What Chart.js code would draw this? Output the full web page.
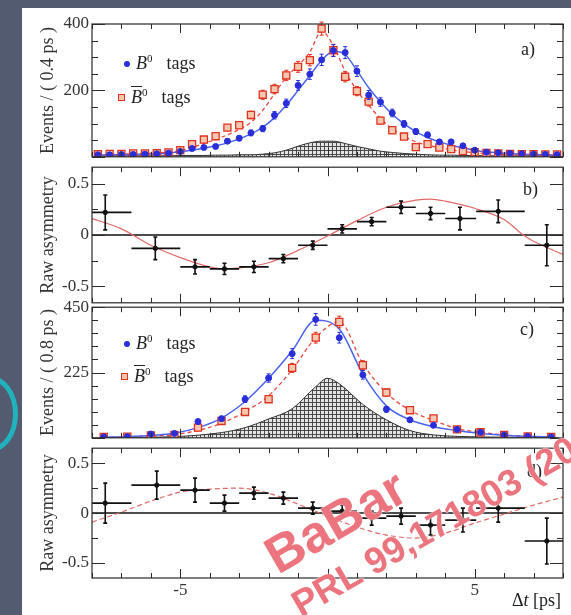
<!DOCTYPE html>
<html>
<head>
<meta charset="utf-8">
<title>BaBar - asimetria en Delta t</title>
<script src="https://cdn.jsdelivr.net/npm/chart.js@4.4.1/dist/chart.umd.min.js"></script>
<style>
  html, body { margin: 0; padding: 0; }
  body { width: 571px; height: 615px; overflow: hidden; position: relative; background: #525b70; font-family: 'Liberation Serif', serif; color: #222; }
  #hoja { position: absolute; left: 22px; top: 8px; width: 549px; height: 607px; background: #fff; }
  #arco { position: absolute; left: -36px; top: 376px; width: 44px; height: 66px; border: 5px solid #22b2bd; border-radius: 50%; }
  .panel { position: absolute; left: 0; width: 571px; }
  .txt { position: absolute; font-size: 18px; line-height: 1; white-space: nowrap; color: #222; }
  .txt sup { font-size: 11px; vertical-align: 7px; line-height: 0; }
  .mk { display: inline-block; vertical-align: 2px; margin-right: 6px; }
  .dot { width: 6px; height: 6px; border-radius: 50%; background: #2a2ed8; }
  .sq { width: 5px; height: 5px; border: 1.3px solid #e0301e; background: #f6c7b0; }
  .tg { margin-left: 14px; }
  .wm { position: absolute; font-family: 'Liberation Sans', Arial, sans-serif; font-weight: bold; color: rgba(230,86,98,0.82); line-height: 1; white-space: nowrap; transform: rotate(-30deg); transform-origin: 0 100%; text-shadow: 0 0 2px #fff, 0 0 1px #fff; }
</style>
</head>
<body>
<div id="arco"></div>
<div id="hoja"></div>
<div class="panel" style="top:10px;height:160px"><canvas id="graficoA"></canvas></div>
<div class="panel" style="top:154px;height:162px"><canvas id="graficoB"></canvas></div>
<div class="panel" style="top:294px;height:157px"><canvas id="graficoC"></canvas></div>
<div class="panel" style="top:435px;height:167px"><canvas id="graficoD"></canvas></div>

<div class="txt" style="left:124px;top:54px"><span class="mk dot"></span><i>B</i><sup>0</sup><span class="tg">tags</span></div>
<div class="txt" style="left:118px;top:88px"><span class="mk sq"></span><i style="text-decoration:overline">B</i><sup>0</sup><span class="tg">tags</span></div>
<div class="txt" style="left:124px;top:334px"><span class="mk dot"></span><i>B</i><sup>0</sup><span class="tg">tags</span></div>
<div class="txt" style="left:121px;top:367px"><span class="mk sq"></span><i style="text-decoration:overline">B</i><sup>0</sup><span class="tg">tags</span></div>

<div class="txt" style="left:521px;top:40px">a)</div>
<div class="txt" style="left:523px;top:180px">b)</div>
<div class="txt" style="left:520px;top:320px">c)</div>
<div class="txt" style="left:527px;top:462px">d)</div>
<div class="txt" style="left:512px;top:591px">Δ<i>t</i> [ps]</div>

<div class="wm" style="left:282px;top:530px;font-size:52px">BaBar</div>
<div class="wm" style="left:304px;top:586px;font-size:37px">PRL 99,171803 (2007)</div>

<script>
// eje comun
const xMin = -8, xMax = 8;
const xMayores = [-5, 0, 5];
const xEtiquetas = [-5, 5];

// a) bins de 0.4 ps
const tA = [-7.8,-7.4,-7.0,-6.6,-6.2,-5.8,-5.4,-5.0,-4.6,-4.2,-3.8,-3.4,-3.0,-2.6,-2.2,-1.8,-1.4,-1.0,-0.6,-0.2,0.2,0.6,1.0,1.4,1.8,2.2,2.6,3.0,3.4,3.8,4.2,4.6,5.0,5.4,5.8,6.2,6.6,7.0,7.4,7.8];
const b0A       = [6,6,7,7,8,9,11,16,25,28,31,47,56,72,85,125,161,215,249,292,320,314,258,186,165,132,99,76,66,45,45,33,20,14,12,10,9,8,7,6];
const b0barA    = [8,9,9,10,10,11,13,20,38,52,62,88,95,126,187,204,245,271,291,386,321,241,198,166,109,80,61,29,38,28,23,17,14,12,10,9,8,8,7,7];
const ajusteB0A    = [5,6,6,7,8,9,11,15,20,26,33,42,54,69,89,118,155,200,245,290,318,308,260,208,165,128,99,76,58,45,35,27,20,15,12,10,8,7,6,5];
const ajusteB0barA = [6,7,8,9,10,12,14,19,28,40,52,66,82,104,140,190,240,275,315,378,335,258,200,155,115,85,62,45,35,27,21,16,12,10,8,7,6,6,5,5];
const fondoA    = [3,3,3,3,3,3,3,4,4,4,5,5,6,6,8,12,20,32,42,47,47,40,31,24,17,13,10,8,6,5,5,4,4,3,3,3,3,3,3,3];

// b) asimetria cruda
const tAsimB  = [-7.55,-5.85,-4.5,-3.5,-2.5,-1.5,-0.5,0.5,1.5,2.5,3.5,4.5,5.8,7.45];
const loAsimB = [-8,-6.66,-5,-4,-3,-2,-1,0,1,2,3,4,5.05,6.7];
const hiAsimB = [-6.66,-5,-4,-3,-2,-1,0,1,2,3,4,5.05,6.7,8];
const asimB   = [0.22,-0.13,-0.31,-0.33,-0.31,-0.23,-0.10,0.06,0.13,0.27,0.21,0.16,0.23,-0.10];
const errAsimB = [0.17,0.11,0.07,0.055,0.055,0.04,0.04,0.04,0.04,0.06,0.06,0.11,0.11,0.20];
const tAjusteB = [-8,-7,-6,-5,-4,-3.5,-3,-2,-1,0,1,2,3,3.5,4,5,6,6.65,7,8];
const ajusteB  = [0.16,0.06,-0.1,-0.22,-0.31,-0.33,-0.32,-0.27,-0.15,-0.01,0.14,0.27,0.34,0.35,0.33,0.26,0.15,0.0,-0.06,-0.19];

// c) bins de 0.8 ps
const tC = [-7.6,-6.8,-6.0,-5.2,-4.4,-3.6,-2.8,-2.0,-1.2,-0.4,0.4,1.2,2.0,2.8,3.6,4.4,5.2,6.0,6.8,7.6];
const b0C       = [3,4,13,15,56,66,133,206,290,408,345,217,98,62,43,29,19,10,5,3];
const b0barC    = [3,4,8,10,35,58,89,133,241,345,399,250,156,95,67,29,19,10,5,3];
const ajusteB0C    = [2,4,8,16,35,68,125,205,300,405,375,220,110,62,38,25,15,9,5,3];
const ajusteB0barC = [2,3,6,11,25,50,90,145,235,345,400,255,155,95,60,32,19,10,5,3];
const tFondoC = [-7.6,-6.8,-6.0,-5.2,-4.4,-3.6,-2.8,-2.0,-1.2,-0.4,0,0.4,1.2,2.0,2.8,3.6,4.4,5.2,6.0,6.8,7.6];
const fondoC  = [1,1,2,4,9,18,35,65,100,176,205,186,115,62,25,10,5,3,2,1,1];

// d) asimetria cruda
const tAsimD  = [-7.55,-5.8,-4.5,-3.5,-2.5,-1.5,-0.5,0.5,1.5,2.5,3.5,4.6,5.8,7.45];
const loAsimD = [-8,-6.66,-5,-4,-3,-2,-1,0,1,2,3,4,5.05,6.7];
const hiAsimD = [-6.66,-5,-4,-3,-2,-1,0,1,2,3,4,5.05,6.7,8];
const asimD   = [0.10,0.28,0.23,0.10,0.20,0.15,0.05,0.02,-0.05,-0.03,-0.12,-0.07,0.05,-0.28];
const errAsimD = [0.20,0.14,0.12,0.08,0.06,0.06,0.06,0.06,0.07,0.08,0.10,0.12,0.14,0.23];
const tAjusteD = [-8,-7,-6,-5,-4,-3,-2,-1,0,1,2,3,4,5,6,7,8];
const ajusteD  = [-0.09,0.01,0.12,0.21,0.24,0.25,0.2,0.09,-0.03,-0.14,-0.22,-0.25,-0.2,-0.1,-0.01,0.08,0.16];

const azul = '#2a2ed8', rojo = '#e0301e';

function puntos(xs, ys) { return xs.map((x, i) => ({ x: x, y: ys[i] })); }

function trama(id) {
  const t = document.createElement('canvas');
  t.width = 4; t.height = 4;
  const g = t.getContext('2d');
  g.fillStyle = '#e4e4e4'; g.fillRect(0, 0, 4, 4);
  g.fillStyle = '#4a4a4a'; g.fillRect(0, 0, 4, 1); g.fillRect(0, 0, 1, 4);
  return document.getElementById(id).getContext('2d').createPattern(t, 'repeat');
}

// marco estilo ROOT: ticks hacia dentro, barras de error, linea de cero
const marcoRoot = {
  id: 'marcoRoot',
  beforeDatasetsDraw(chart, args, o) {
    if (!o.cero) return;
    const { ctx, chartArea: a, scales: { y } } = chart;
    const yy = y.getPixelForValue(0);
    ctx.save();
    ctx.strokeStyle = '#111'; ctx.lineWidth = 1.5;
    ctx.beginPath(); ctx.moveTo(a.left, yy); ctx.lineTo(a.right, yy); ctx.stroke();
    ctx.restore();
  },
  beforeDatasetDraw(chart, args) {
    const ds = chart.data.datasets[args.index];
    if (!ds.errY && !ds.poisson) return;
    const { ctx, scales: { x, y } } = chart;
    ctx.save();
    ctx.strokeStyle = ds.colorError; ctx.lineWidth = ds.anchoError || 1;
    ds.data.forEach((p, i) => {
      const e = ds.errY ? ds.errY[i] : Math.sqrt(p.y);
      const px = x.getPixelForValue(p.x), py = y.getPixelForValue(p.y);
      const y1 = y.getPixelForValue(p.y + e), y2 = y.getPixelForValue(p.y - e);
      ctx.beginPath();
      ctx.moveTo(px, y1); ctx.lineTo(px, y2);
      ctx.moveTo(px - 2, y1); ctx.lineTo(px + 2, y1);
      ctx.moveTo(px - 2, y2); ctx.lineTo(px + 2, y2);
      if (ds.xLo) {
        ctx.moveTo(x.getPixelForValue(ds.xLo[i]), py);
        ctx.lineTo(x.getPixelForValue(ds.xHi[i]), py);
      }
      ctx.stroke();
    });
    ctx.restore();
  },
  afterDraw(chart, args, o) {
    const { ctx, chartArea: a, scales: { x, y } } = chart;
    ctx.save();
    ctx.strokeStyle = '#2a2a2a'; ctx.lineWidth = 1.2;
    ctx.strokeRect(a.left, a.top, a.right - a.left, a.bottom - a.top);
    ctx.lineWidth = 1;
    ctx.beginPath();
    for (let v = Math.ceil(x.min); v <= x.max; v++) {
      const px = Math.round(x.getPixelForValue(v)) + 0.5;
      const l = xMayores.includes(v) ? 9 : 5;
      ctx.moveTo(px, a.bottom); ctx.lineTo(px, a.bottom - l);
      ctx.moveTo(px, a.top); ctx.lineTo(px, a.top + l);
    }
    const n0 = Math.ceil(y.min / o.paso - 1e-6), n1 = Math.floor(y.max / o.paso + 1e-6);
    for (let n = n0; n <= n1; n++) {
      const v = n * o.paso;
      const py = Math.round(y.getPixelForValue(v)) + 0.5;
      const l = o.mayoresY.some(m => Math.abs(m - v) < 1e-6) ? 13 : 6;
      ctx.moveTo(a.left, py); ctx.lineTo(a.left + l, py);
      ctx.moveTo(a.right, py); ctx.lineTo(a.right - l, py);
    }
    ctx.stroke();
    ctx.restore();
  }
};

function crearPanel(id, cfg) {
  const etiqueta = v => {
    const m = cfg.etiquetasY.find(e => Math.abs(e - v) < 1e-6);
    return m === undefined ? '' : String(m);
  };
  const ejeX = cfg.conEjeX ? {
    type: 'linear', min: xMin, max: xMax,
    afterFit: s => { s.height = 24; },
    grid: { display: false, drawTicks: false }, border: { display: false },
    ticks: { stepSize: 1, autoSkip: false, maxRotation: 0, maxTicksLimit: 100, padding: 2, color: '#333',
             font: { size: 17 }, callback: v => xEtiquetas.includes(v) ? String(v) : '' }
  } : { type: 'linear', display: false, min: xMin, max: xMax, ticks: { stepSize: 1, maxTicksLimit: 100 } };

  return new Chart(document.getElementById(id), {
    type: 'scatter',
    data: { datasets: cfg.datasets },
    options: {
      animation: false,
      responsive: true,
      maintainAspectRatio: false,
      layout: { padding: { left: 0, right: 8, top: cfg.padTop, bottom: cfg.padBottom } },
      plugins: {
        legend: { display: false },
        tooltip: { enabled: false },
        marcoRoot: { paso: cfg.paso, mayoresY: cfg.mayoresY, cero: cfg.cero }
      },
      scales: {
        x: ejeX,
        y: {
          min: cfg.min, max: cfg.max,
          afterFit: s => { s.width = 92; },
          grid: { display: false, drawTicks: false }, border: { display: false },
          ticks: { stepSize: cfg.paso, autoSkip: false, includeBounds: false, padding: 3, color: '#333',
                   font: { size: 17 }, callback: etiqueta },
          title: { display: true, text: cfg.titulo, color: '#333', font: { size: 18 }, padding: { top: 37, bottom: 0 } }
        }
      }
    },
    plugins: [marcoRoot]
  });
}

Chart.defaults.font.family = "'Liberation Serif', serif";

function datasetsEventos(id, ts, azules, rojos, ajAzul, ajRojo, tFondo, fondo) {
  return [
    { data: puntos(ts, azules), pointStyle: 'circle', pointRadius: 3, backgroundColor: azul, borderColor: azul,
      poisson: true, colorError: azul },
    { data: puntos(ts, rojos), pointStyle: 'rect', pointRadius: 5, borderWidth: 1.3, backgroundColor: '#f6c7b0', borderColor: rojo,
      poisson: true, colorError: rojo },
    { type: 'line', data: puntos(ts, ajAzul), showLine: true, borderColor: '#4a62ee', borderWidth: 1.5, pointRadius: 0,
      cubicInterpolationMode: 'monotone', fill: false },
    { type: 'line', data: puntos(ts, ajRojo), showLine: true, borderColor: '#e8453c', borderWidth: 1.3, borderDash: [4, 3],
      pointRadius: 0, cubicInterpolationMode: 'monotone', fill: false },
    { type: 'line', data: puntos(tFondo, fondo), showLine: true, borderColor: '#333', borderWidth: 1, pointRadius: 0,
      cubicInterpolationMode: 'monotone', fill: 'origin', backgroundColor: trama(id) }
  ];
}

function datasetsAsim(ts, vals, errs, lo, hi, tAj, aj, guion) {
  return [
    { data: puntos(ts, vals), pointStyle: 'circle', pointRadius: 2.2, backgroundColor: '#111', borderColor: '#111',
      errY: errs, xLo: lo, xHi: hi, colorError: '#111', anchoError: 1.6 },
    { type: 'line', data: puntos(tAj, aj), showLine: true, borderColor: '#e26a6a', borderWidth: 1.2,
      borderDash: guion ? [5, 3] : [], pointRadius: 0, cubicInterpolationMode: 'monotone', fill: false }
  ];
}

crearPanel('graficoA', {
  padTop: 14, padBottom: 6, min: 0, max: 400, paso: 50, mayoresY: [0, 200, 400], etiquetasY: [200, 400],
  titulo: 'Events / ( 0.4 ps )',
  datasets: datasetsEventos('graficoA', tA, b0A, b0barA, ajusteB0A, ajusteB0barA, tA, fondoA)
});

crearPanel('graficoB', {
  padTop: 10, padBottom: 10, min: -0.66, max: 0.66, paso: 0.25, mayoresY: [-0.5, 0, 0.5], etiquetasY: [-0.5, 0, 0.5],
  cero: true, titulo: 'Raw asymmetry',
  datasets: datasetsAsim(tAsimB, asimB, errAsimB, loAsimB, hiAsimB, tAjusteB, ajusteB, false)
});

crearPanel('graficoC', {
  padTop: 12, padBottom: 6, min: 0, max: 450, paso: 45, mayoresY: [0, 225, 450], etiquetasY: [225, 450],
  titulo: 'Events / ( 0.8 ps )',
  datasets: datasetsEventos('graficoC', tC, b0C, b0barC, ajusteB0C, ajusteB0barC, tFondoC, fondoC)
});

crearPanel('graficoD', {
  padTop: 10, padBottom: 0, min: -0.65, max: 0.65, paso: 0.25, mayoresY: [-0.5, 0, 0.5], etiquetasY: [-0.5, 0, 0.5],
  cero: true, conEjeX: true, titulo: 'Raw asymmetry',
  datasets: datasetsAsim(tAsimD, asimD, errAsimD, loAsimD, hiAsimD, tAjusteD, ajusteD, true)
});
</script>
</body>
</html>
